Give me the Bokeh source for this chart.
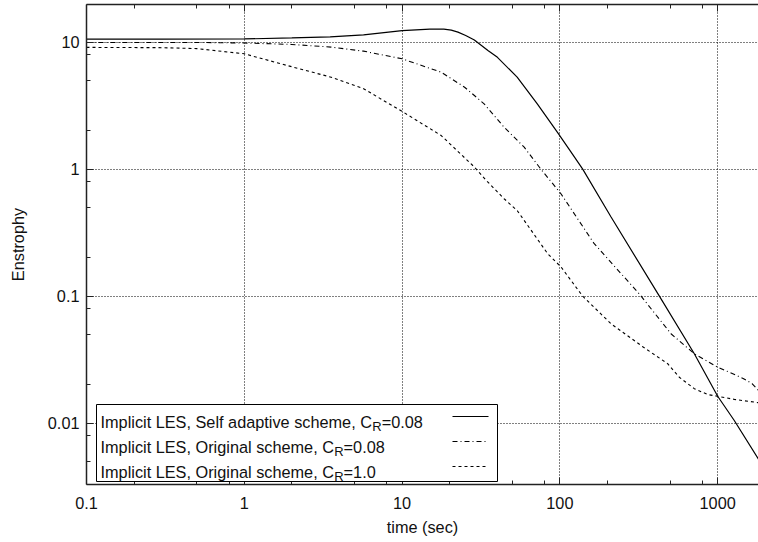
from bokeh.plotting import figure
from bokeh.models import (LogAxis, FixedTicker, CustomJSTickFormatter,
                          BoxAnnotation, Label, Arrow)
from bokeh.embed import file_html
from bokeh.resources import INLINE

# ---------------- data ----------------
t_self = [0.1, 0.3, 1.0, 2.0, 3.5, 5.7, 10, 15, 18.4, 20.5, 22.6, 25.3, 28.7,
          35, 40.2, 53.6, 71.9, 96.3, 116, 139.5, 211, 427, 711, 1000, 1274,
          1814]
e_self = [10.55, 10.55, 10.6, 10.8, 11.0, 11.4, 12.35, 12.65, 12.65, 12.45,
          12.0, 11.3, 10.4, 8.6, 7.6, 5.3, 3.27, 1.96, 1.40, 1.0, 0.42, 0.1,
          0.0352, 0.0163, 0.0105, 0.0052]

t_orig008 = [0.1, 0.5, 1.0, 2.0, 3.55, 5.7, 10, 17.7, 24.9, 33.1, 44.3, 59.4,
             75.8, 101.6, 165, 319, 506, 711, 1000, 1200, 1450, 1650, 1814]
e_orig008 = [9.95, 9.95, 9.85, 9.6, 9.15, 8.5, 7.4, 5.8, 4.42, 3.27, 2.14,
             1.49, 1.0, 0.64, 0.259, 0.104, 0.0506, 0.0352, 0.0276, 0.025,
             0.0225, 0.0205, 0.0181]

t_orig1 = [0.1, 0.3, 0.5, 1.0, 1.87, 3.55, 5.7, 10, 17.7, 28.7, 34, 44.3,
           53.6, 83.7, 101.6, 139.5, 211, 335, 482, 571, 711, 865, 1000,
           1274, 1814]
e_orig1 = [9.1, 9.05, 8.9, 8.1, 6.55, 5.3, 4.3, 2.85, 1.84, 1.04, 0.82, 0.585,
           0.473, 0.216, 0.17, 0.1, 0.0606, 0.040, 0.0294, 0.023, 0.0187,
           0.0168, 0.0163, 0.0154, 0.0145]

x_ticks = [0.1, 1, 10, 100, 1000]
x_tick_labels = ["0.1", "1", "10", "100", "1000"]
x_minor = [0.2, 0.5, 0.8, 2, 5, 8, 20, 50, 80, 200, 500, 800]
y_ticks = [0.01, 0.1, 1, 10]
y_tick_labels = ["0.01", "0.1", "1", "10"]
y_minor = [0.005, 0.008, 0.02, 0.05, 0.08, 0.2, 0.5, 0.8, 2, 5, 8]

legend_main = ["Implicit LES, Self adaptive scheme, C",
               "Implicit LES, Original scheme, C",
               "Implicit LES, Original scheme, C"]
legend_sub = ["R", "R", "R"]
legend_tail = ["=0.08", "=0.08", "=1.0"]
legend_dash = ["solid", "5 3 1 3", "3 3"]

# ---------------- layout ----------------
W, H = 758, 542
L, R, T, B = 86, 0, 4, 58
FONT = "Liberation Sans"
FS = 16.3
INK = "#111111"

p = figure(width=W, height=H, x_axis_type="log", y_axis_type="log",
           x_range=(0.1, 1814), y_range=(0.00329, 19.8),
           min_border_left=L, min_border_right=R, min_border_top=T,
           min_border_bottom=B, toolbar_location=None, output_backend="svg",
           outline_line_color=None, background_fill_color="white",
           border_fill_color="white")

fmt_code = """
let best = 0, d = Infinity;
for (let i = 0; i < tv.length; i++) {
  const dd = Math.abs(Math.log10(tick) - Math.log10(tv[i]));
  if (dd < d) { d = dd; best = i; }
}
return tl[best];
"""


def style(ax, ticks, minor, labels, show=True):
    ax.ticker = FixedTicker(ticks=ticks, minor_ticks=minor)
    ax.formatter = CustomJSTickFormatter(args=dict(tv=ticks, tl=labels),
                                         code=fmt_code if show else "return '';")
    ax.major_tick_in = 7
    ax.major_tick_out = 0
    ax.minor_tick_in = 4
    ax.minor_tick_out = 0
    ax.major_tick_line_color = "#222222"
    ax.minor_tick_line_color = "#222222"
    ax.axis_line_color = "#222222"
    ax.axis_line_width = 1.5
    ax.major_label_text_font = FONT
    ax.major_label_text_font_size = f"{FS}px" if show else "0px"
    ax.major_label_text_color = INK
    ax.axis_label_text_font = FONT
    ax.axis_label_text_font_size = f"{FS}px"
    ax.axis_label_text_font_style = "normal"
    ax.axis_label_text_color = INK


style(p.xaxis[0], x_ticks, x_minor, x_tick_labels)
style(p.yaxis[0], y_ticks, y_minor, y_tick_labels)
p.xaxis[0].axis_label = "time (sec)"
p.yaxis[0].axis_label = "Enstrophy"
p.xaxis[0].major_label_standoff = 12
p.xaxis[0].axis_label_standoff = 6
p.yaxis[0].major_label_standoff = 7
p.yaxis[0].axis_label_standoff = 18

top = LogAxis()
style(top, x_ticks, x_minor, x_tick_labels, show=False)
top.major_label_standoff = 0
p.add_layout(top, "above")

for g, tk in ((p.xgrid[0], x_ticks), (p.ygrid[0], y_ticks)):
    g.ticker = FixedTicker(ticks=tk)
    g.grid_line_color = "black"
    g.grid_line_dash = "1 2"
    g.grid_line_width = 1

p.line(t_self, e_self, line_color="black", line_width=1.2)
p.line(t_orig008, e_orig008, line_color="black", line_width=1.1,
       line_dash=legend_dash[1])
p.line(t_orig1, e_orig1, line_color="black", line_width=1.1,
       line_dash=legend_dash[2])

# ---------------- legend (gnuplot style: text left, sample right) --------
AW = {' ': 278, ',': 278, '.': 278, '=': 584, '0': 556, '1': 556, '8': 556,
      'C': 722, 'E': 667, 'I': 278, 'L': 556, 'O': 778, 'R': 722, 'S': 667,
      'a': 556, 'c': 500, 'd': 556, 'e': 556, 'f': 278, 'g': 556, 'h': 556,
      'i': 222, 'l': 222, 'm': 833, 'n': 556, 'p': 556, 'r': 333, 's': 500,
      't': 278, 'v': 500}


def tw(s, size):
    return sum(AW.get(c, 556) for c in s) * size / 1000.0


frame_bottom = H - B


def sx(cx):
    return cx - L


def sy(cy):
    return frame_bottom - cy


p.add_layout(BoxAnnotation(left=sx(96), right=sx(497), top=sy(404),
                           bottom=sy(481), left_units="screen",
                           right_units="screen", top_units="screen",
                           bottom_units="screen", fill_color="white",
                           fill_alpha=1.0, line_color="black", line_width=1,
                           line_alpha=1.0, level="annotation"))

SUB = 13.0
centers = [416, 441, 466]
for i, c in enumerate(centers):
    base = c + 5.5
    x0 = 100
    p.add_layout(Label(x=sx(x0), y=sy(base), x_units="screen", y_units="screen",
                       text=legend_main[i], text_font=FONT,
                       text_font_size=f"{FS}px", text_color=INK,
                       text_align="left", text_baseline="alphabetic"))
    x1 = x0 + tw(legend_main[i], FS)
    p.add_layout(Label(x=sx(x1), y=sy(base + 4), x_units="screen",
                       y_units="screen", text=legend_sub[i], text_font=FONT,
                       text_font_size=f"{SUB}px", text_color=INK,
                       text_align="left", text_baseline="alphabetic"))
    x2 = x1 + tw(legend_sub[i], SUB)
    p.add_layout(Label(x=sx(x2), y=sy(base), x_units="screen", y_units="screen",
                       text=legend_tail[i], text_font=FONT,
                       text_font_size=f"{FS}px", text_color=INK,
                       text_align="left", text_baseline="alphabetic"))
    p.add_layout(Arrow(x_start=sx(452), y_start=sy(c), x_end=sx(488),
                       y_end=sy(c), start_units="screen", end_units="screen",
                       start=None, end=None, line_color="black",
                       line_width=1.2 if i == 0 else 1.1,
                       line_dash=legend_dash[i]))

open("out.html", "w").write(file_html(p, INLINE))
